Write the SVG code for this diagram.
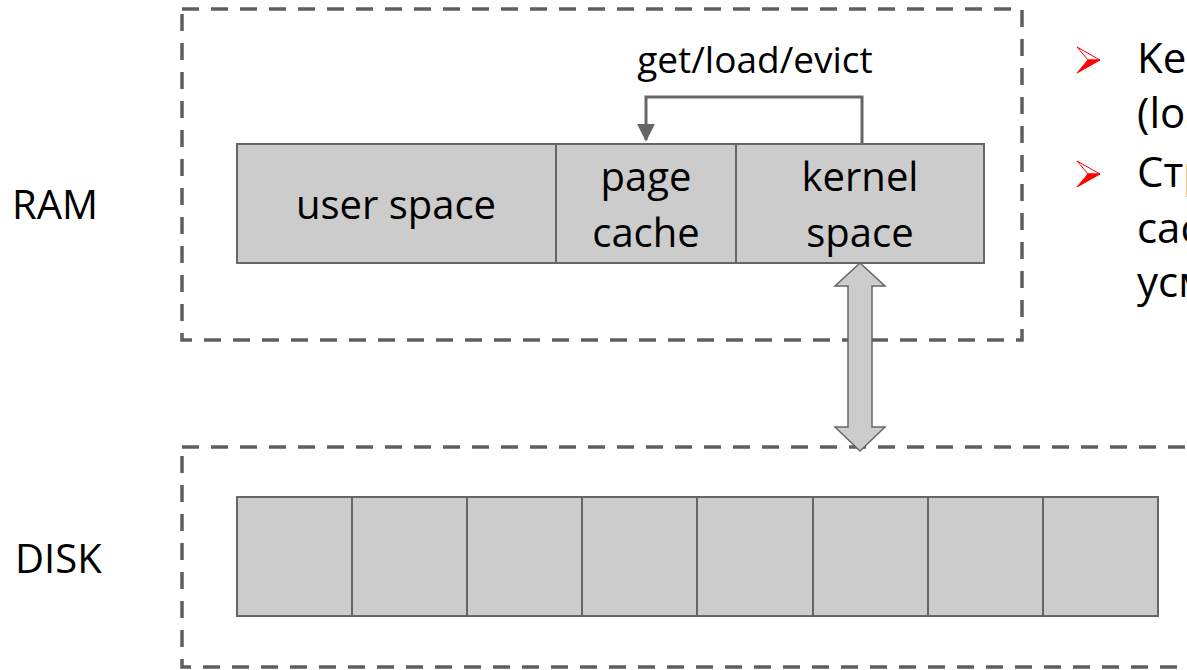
<svg xmlns="http://www.w3.org/2000/svg" width="1187" height="670" viewBox="0 0 1187 670">
  <style>
    .zone { fill: none; stroke: #5f5f5f; stroke-width: 3.5; stroke-dasharray: 17 12; }
    .cell { fill: #cccccc; stroke: #666666; stroke-width: 2; }
    .lbl { font-family: "Open Sans", "Liberation Sans", sans-serif; font-size: 40px; fill: #000000; }
    .mid { text-anchor: middle; }
    .side { font-family: "Open Sans", "Liberation Sans", sans-serif; font-size: 42px; fill: #000000; }
    .link { fill: none; stroke: #666666; stroke-width: 3; }
    .bus { fill: #cccccc; stroke: #666666; stroke-width: 1.5; stroke-linejoin: miter; }
  </style>
  <defs>
    <marker id="head" viewBox="0 0 10 10" refX="9" refY="5" markerWidth="6" markerHeight="6" markerUnits="strokeWidth" orient="auto">
      <path d="M0,0 L10,5 L0,10 Z" fill="#666666"/>
    </marker>
    <g id="bullet">
      <polygon points="0,-13 23,0 11,0" fill="#ffffff" stroke="#ff0000" stroke-width="1"/>
      <polygon points="11,0 23,0 0,13" fill="#ff0000" stroke="#ff0000" stroke-width="1"/>
    </g>
  </defs>

  <rect width="1187" height="670" fill="#ffffff"/>

  <!-- memory / storage zones -->
  <g id="ram-zone">
    <rect class="zone" x="182" y="9" width="840" height="331"/>
    <text class="lbl" x="12" y="219">RAM</text>
  </g>
  <g id="disk-zone">
    <rect class="zone" x="182" y="447" width="1040" height="220"/>
    <text class="lbl" x="15" y="573">DISK</text>
  </g>

  <!-- RAM layout -->
  <g id="user-space">
    <rect class="cell" x="237" y="144" width="319" height="119"/>
    <text class="lbl mid" x="396" y="219">user space</text>
  </g>
  <g id="page-cache">
    <rect class="cell" x="556" y="144" width="180" height="119"/>
    <text class="lbl mid" x="646" y="191">page</text>
    <text class="lbl mid" x="646" y="247">cache</text>
  </g>
  <g id="kernel-space">
    <rect class="cell" x="736" y="144" width="248" height="119"/>
    <text class="lbl mid" x="860" y="191">kernel</text>
    <text class="lbl mid" x="860" y="247">space</text>
  </g>

  <!-- disk blocks -->
  <g id="disk-blocks">
    <rect class="cell" x="237" y="497" width="115" height="119"/>
    <rect class="cell" x="352" y="497" width="115" height="119"/>
    <rect class="cell" x="467" y="497" width="115" height="119"/>
    <rect class="cell" x="582" y="497" width="115" height="119"/>
    <rect class="cell" x="697" y="497" width="116" height="119"/>
    <rect class="cell" x="813" y="497" width="115" height="119"/>
    <rect class="cell" x="928" y="497" width="115" height="119"/>
    <rect class="cell" x="1043" y="497" width="115" height="119"/>
  </g>

  <!-- connectors -->
  <g id="connectors">
    <path class="link" d="M862,144 V97 H646 V140" marker-end="url(#head)"/>
    <text class="lbl mid" x="755" y="73" style="font-size:37px">get/load/evict</text>
    <polygon class="bus" points="860,263 835,286 848,286 848,427 835,427 860,451 885,427 872,427 872,286 885,286"/>
  </g>

  <!-- side notes, running past the right edge -->
  <g id="notes">
    <use href="#bullet" x="1077" y="60"/>
    <use href="#bullet" x="1077" y="174"/>
    <text class="side" x="1137" y="73">Kernel</text>
    <text class="side" x="1137" y="128">(load</text>
    <text class="side" x="1137" y="187">Страничный</text>
    <text class="side" x="1137" y="243">cache</text>
    <text class="side" x="1137" y="297">усмотрению</text>
  </g>
</svg>
